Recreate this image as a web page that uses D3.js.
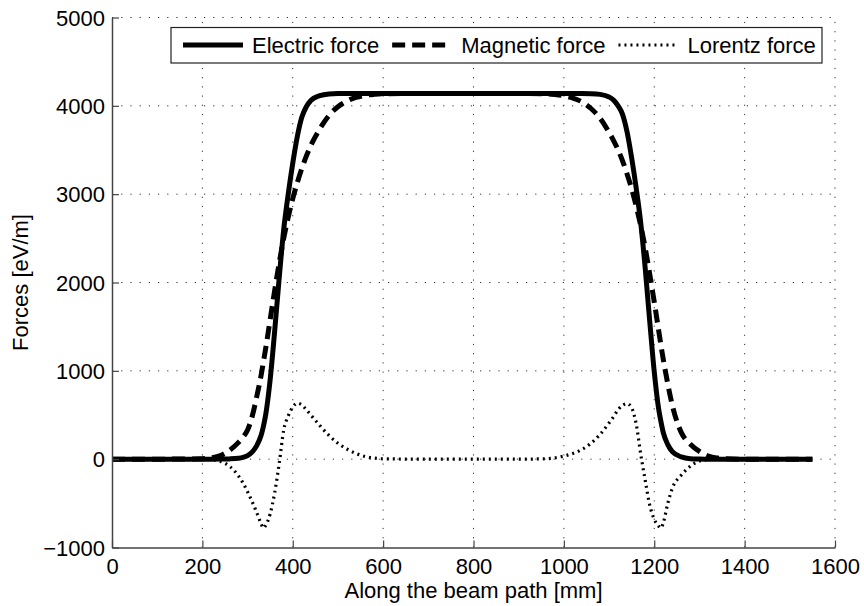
<!DOCTYPE html>
<html>
<head>
<meta charset="utf-8">
<script src="https://cdn.jsdelivr.net/npm/d3@7"></script>
<style>
  body { margin: 0; background: #fff; }
  text { font-family: "Liberation Sans", Arial, Helvetica, sans-serif; fill: #000; }
</style>
</head>
<body>
<div id="chart"></div>
<script>
// positions along the beam path [mm]
var pathPos = [0, 100, 200, 220, 240, 260, 280, 290, 300, 310,
	320, 330, 335, 340, 350, 360, 370, 380, 390, 400,
	410, 420, 430, 440, 460, 480, 500, 520, 540, 560,
	580, 600, 700, 800, 900, 960, 980, 1000, 1020, 1040,
	1060, 1080, 1100, 1110, 1120, 1130, 1140, 1150, 1160, 1170,
	1180, 1190, 1200, 1210, 1215, 1220, 1230, 1240, 1260, 1280,
	1300, 1320, 1340, 1360, 1400, 1500, 1550];

// forces [eV/m]
var electricForce = [0, 0, 0, 0, 1, 3, 10, 20, 40, 80,
	150, 270, 370, 500, 900, 1450, 2050, 2600, 3000, 3350,
	3650, 3870, 3990, 4060, 4115, 4135, 4140, 4140, 4140, 4140,
	4140, 4140, 4140, 4140, 4140, 4140, 4140, 4140, 4140, 4140,
	4138, 4130, 4100, 4065, 4000, 3900, 3700, 3410, 3070, 2680,
	2160, 1560, 990, 560, 420, 300, 165, 85, 25, 6,
	2, 0, 0, 0, 0, 0, 0];

var magneticForce = [0, 0, 5, 15, 40, 100, 190, 250, 330, 480,
	700, 950, 1100, 1250, 1580, 1910, 2220, 2500, 2740, 2950,
	3130, 3290, 3430, 3550, 3740, 3890, 3990, 4055, 4095, 4118,
	4130, 4137, 4140, 4140, 4140, 4136, 4128, 4114, 4088, 4045,
	3970, 3860, 3700, 3607, 3500, 3375, 3225, 3060, 2865, 2645,
	2390, 2095, 1780, 1450, 1283, 1130, 850, 610, 300, 170,
	88, 35, 13, 4, 0, 0, 0];

var lorentzForce = [0, 0, 0, -5, -25, -80, -190, -270, -370, -480,
	-600, -730, -780, -750, -620, -380, -50, 330, 490, 590,
	634, 615, 560, 500, 380, 270, 180, 115, 65, 30,
	12, 4, 0, 0, 0, 5, 15, 35, 65, 110,
	180, 280, 410, 480, 560, 610, 630, 580, 400, 60,
	-240, -520, -680, -760, -780, -720, -500, -330, -180, -80,
	-20, -5, 0, 0, 0, 0, 0];

var seriesNames = ["Electric force", "Magnetic force", "Lorentz force"];
var xTicks = [0, 200, 400, 600, 800, 1000, 1200, 1400, 1600];
var yTicks = [-1000, 0, 1000, 2000, 3000, 4000, 5000];

var width = 864, height = 606;
var plotLeft = 112, plotRight = 835, plotTop = 17.5, plotBottom = 547.5;

var svg = d3.select("#chart")
	.append("svg")
	.attr("width", width)
	.attr("height", height)

var x = d3.scaleLinear().domain([0, 1600]).range([plotLeft, plotRight]);
var y = d3.scaleLinear().domain([-1000, 5000]).range([plotBottom, plotTop]);

// dotted grid
var grid = svg.append("g")
	.attr("stroke", "#333")
	.attr("stroke-width", 1)
	.attr("stroke-dasharray", "1.2,8")

grid.selectAll(".gx")
	.data(xTicks.filter(d => d > 0))
	.enter()
	.append("line")
	.attr("x1", d => x(d)).attr("x2", d => x(d))
	.attr("y1", plotBottom).attr("y2", plotTop)

grid.selectAll(".gy")
	.data(yTicks.filter(d => d > -1000))
	.enter()
	.append("line")
	.attr("y1", d => y(d)).attr("y2", d => y(d))
	.attr("x1", plotLeft).attr("x2", plotRight)

// curves
var series = [
	{ name: seriesNames[0], values: electricForce, width: 5, dash: null },
	{ name: seriesNames[1], values: magneticForce, width: 5, dash: "13,7" },
	{ name: seriesNames[2], values: lorentzForce, width: 3.2, dash: "2,4" }
];

var line = d3.line()
	.x((d, i) => x(pathPos[i]))
	.y(d => y(d))
	.curve(d3.curveMonotoneX)

svg.selectAll(".curve")
	.data(series)
	.enter()
	.append("path")
	.attr("class", "curve")
	.attr("d", d => line(d.values))
	.attr("fill", "none")
	.attr("stroke", "#000")
	.attr("stroke-width", d => d.width)
	.attr("stroke-dasharray", d => d.dash)

// axes (left and bottom only, ticks pointing inward)
var xAxis = svg.append("g")
	.attr("transform", "translate(0," + plotBottom + ")")
	.call(d3.axisBottom(x).tickValues(xTicks).tickSizeInner(-7).tickSizeOuter(0)
		.tickFormat(d3.format("d")))

var yAxis = svg.append("g")
	.attr("transform", "translate(" + plotLeft + ",0)")
	.call(d3.axisLeft(y).tickValues(yTicks).tickSizeInner(-7).tickSizeOuter(0)
		.tickFormat(d => d < 0 ? "\u2212" + Math.abs(d) : d))

svg.selectAll(".domain").attr("stroke", "#444").attr("stroke-width", 1.5)
svg.selectAll(".tick line").attr("stroke", "#444").attr("stroke-width", 1.2)
svg.selectAll(".tick text")
	.attr("font-size", 22)
	.attr("font-family", "Liberation Sans, Arial, sans-serif")
	.attr("fill", "#000")

xAxis.selectAll(".tick text").attr("dy", null).attr("y", 26.5)
yAxis.selectAll(".tick text").attr("x", -7).attr("dy", "0.35em")

// axis titles
svg.append("text")
	.attr("x", (plotLeft + plotRight) / 2)
	.attr("y", 598)
	.attr("text-anchor", "middle")
	.attr("font-size", 22)
	.text("Along the beam path [mm]")

svg.append("text")
	.attr("transform", "translate(28," + (plotTop + plotBottom) / 2 + ") rotate(-90)")
	.attr("text-anchor", "middle")
	.attr("font-size", 22)
	.text("Forces [eV/m]")

// legend
var legend = svg.append("g")

legend.append("rect")
	.attr("x", 171).attr("y", 27.5)
	.attr("width", 651).attr("height", 35.5)
	.attr("fill", "#fff")
	.attr("stroke", "#222")
	.attr("stroke-width", 1.2)

var cursor = 183;
series.forEach(function(s) {
	legend.append("line")
		.attr("x1", cursor).attr("x2", cursor + 60)
		.attr("y1", 45).attr("y2", 45)
		.attr("stroke", "#000")
		.attr("stroke-width", s.width)
		.attr("stroke-dasharray", s.dash)
	var t = legend.append("text")
		.attr("x", cursor + 69)
		.attr("y", 53)
		.attr("font-size", 22)
		.text(s.name)
	cursor = cursor + 69 + t.node().getComputedTextLength() + 13;
});
</script>
</body>
</html>
